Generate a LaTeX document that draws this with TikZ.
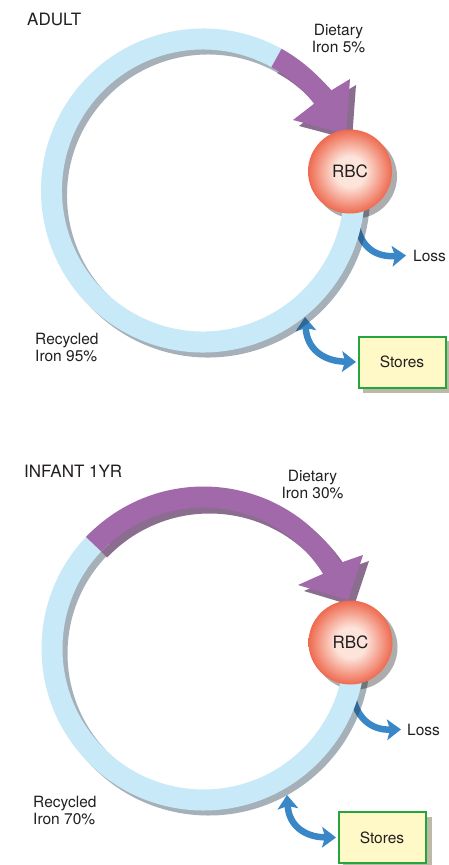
\documentclass[tikz,border=0pt]{standalone}
\usepackage{fontspec}
\setmainfont{TeX Gyre Heros}
\usetikzlibrary{arrows.meta}
\definecolor{ringblue}{HTML}{C8E9F8}
\definecolor{shadowink}{HTML}{1E3A4E}
\definecolor{dietpurple}{HTML}{A169A9}
\definecolor{purpleshadow}{HTML}{8B6D90}
\definecolor{flowblue}{HTML}{3A87C8}
\definecolor{rbcin}{HTML}{FDE4DB}
\definecolor{rbcout}{HTML}{EE6A4F}
\definecolor{storesfill}{HTML}{FFF9C8}
\definecolor{storesline}{HTML}{25A53E}
\definecolor{boxshadow}{HTML}{BCB9A7}
\definecolor{ink}{HTML}{231F20}
\pgfdeclareradialshading{rbcshade}{\pgfpoint{0bp}{0bp}}{color(0bp)=(rbcin); color(9bp)=(rbcin); color(25bp)=(rbcout); color(50bp)=(rbcout)}
\tikzset{
  ringarc/.style={draw=ringblue, line width=21pt},
  ringshadow/.style={draw=shadowink, draw opacity=0.4, line width=21pt},
  flowtip/.tip={Stealth[length=14pt,width=21pt,inset=3pt,line width=0pt]},
  flowarrow/.style={draw=flowblue, line width=6.5pt, -flowtip},
  flowboth/.style={draw=flowblue, line width=6.5pt, flowtip-flowtip},
  rbccell/.style={circle, minimum size=84pt, inner sep=0pt, shade, shading=rbcshade,
    font=\fontsize{17}{20}\selectfont, text=ink},
  rbcshadow/.style={fill=black, fill opacity=0.32},
  storesbox/.style={draw=storesline, line width=2pt, fill=storesfill,
    minimum width=87pt, minimum height=51pt, inner sep=0pt,
    font=\fontsize{15.5}{17}\selectfont, text=ink},
  txtlabel/.style={font=\fontsize{15.5}{17}\selectfont, text=ink, inner sep=0pt},
  headtitle/.style={font=\fontsize{17}{20}\selectfont, text=ink, inner sep=0pt},
}
\begin{document}
\begin{tikzpicture}[x=1pt,y=1pt]
\useasboundingbox[fill=white] (0,0) rectangle (449,-865);

% ================= ADULT =================
\coordinate (ctr1) at (203,-190.5);
\coordinate (rbcpos1) at (350,-171.5);
\coordinate (lossstart1) at (356,-222);
\coordinate (storestop1) at (305,-317);

\fill[boxshadow] (363,-341) rectangle (451,-393);
\node[storesbox] (stores1) at (402,-362) {Stores};
\node[txtlabel, anchor=base west] (loss1) at (413,-261) {Loss};

\draw[flowarrow] (lossstart1) .. controls (361,-250) and (378,-257) .. ([xshift=-7pt]loss1.west);
\draw[flowboth] (storestop1) .. controls (307,-348) and (322,-361) .. ([xshift=-1.5pt]stores1.west);

\begin{scope}[shift={(ctr1)}]
  \draw[ringshadow, shift={(5,-5)}] (57:151.5) arc[start angle=57, end angle=365, radius=151.5];
  \fill[purpleshadow, shift={(6,-6)}] (61:162) arc[start angle=61, end angle=38, radius=162]
     -- (147,111.5) -- (143,56.5) -- (90,70.5) -- (38:141)
     arc[start angle=38, end angle=61, radius=141] -- cycle;
\end{scope}
\fill[rbcshadow] ([shift={(5,-5)}]rbcpos1) circle[radius=42];
\begin{scope}[shift={(ctr1)}]
  \draw[ringarc] (57:151.5) arc[start angle=57, end angle=365, radius=151.5];
  \fill[dietpurple] (61:162) arc[start angle=61, end angle=38, radius=162]
     -- (147,111.5) -- (143,56.5) -- (90,70.5) -- (38:141)
     arc[start angle=38, end angle=61, radius=141] -- cycle;
\end{scope}
\node[rbccell] (rbc1) at (rbcpos1) {RBC};

\node[headtitle, anchor=base west] (adult) at (27,-25) {ADULT};
\node[txtlabel, align=center] (diet1) at (338.5,-39) {Dietary\\Iron 5\%};
\node[txtlabel, align=left, anchor=west] (rec1) at (35,-347.5) {Recycled\\Iron 95\%};

% ================= INFANT =================
\coordinate (ctr2) at (203.5,-648.5);
\coordinate (rbcpos2) at (350.5,-642.5);
\coordinate (lossstart2) at (353,-697);
\coordinate (storestop2) at (287,-795);

\fill[boxshadow] (343,-817) rectangle (432,-868);
\node[storesbox] (stores2) at (382,-837.5) {Stores};
\node[txtlabel, anchor=base west] (loss2) at (407,-735) {Loss};

\draw[flowarrow] (lossstart2) .. controls (358,-722) and (375,-730) .. ([xshift=-6pt]loss2.west);
\draw[flowboth] (storestop2) .. controls (289,-825) and (304,-837) .. ([xshift=-1.5pt]stores2.west);

\begin{scope}[shift={(ctr2)}]
  \draw[ringshadow, shift={(5,-5)}] (132:151.5) arc[start angle=132, end angle=365, radius=151.5];
  \fill[purpleshadow, shift={(6,-6)}] (136.5:162) arc[start angle=136.5, end angle=32, radius=162]
     -- (159.5,93.5) -- (144.5,48.5) -- (94.5,63.5) -- (32:141)
     arc[start angle=32, end angle=136.5, radius=141] -- cycle;
\end{scope}
\fill[rbcshadow] ([shift={(5,-5)}]rbcpos2) circle[radius=42];
\begin{scope}[shift={(ctr2)}]
  \draw[ringarc] (132:151.5) arc[start angle=132, end angle=365, radius=151.5];
  \fill[dietpurple] (136.5:162) arc[start angle=136.5, end angle=32, radius=162]
     -- (159.5,93.5) -- (144.5,48.5) -- (94.5,63.5) -- (32:141)
     arc[start angle=32, end angle=136.5, radius=141] -- cycle;
\end{scope}
\node[rbccell] (rbc2) at (rbcpos2) {RBC};

\node[headtitle, anchor=base west] (infant) at (24,-477) {INFANT 1YR};
\node[txtlabel, align=center] (diet2) at (312.5,-484) {Dietary\\Iron 30\%};
\node[txtlabel, align=left, anchor=west] (rec2) at (33,-810) {Recycled\\Iron 70\%};
\end{tikzpicture}
\end{document}
